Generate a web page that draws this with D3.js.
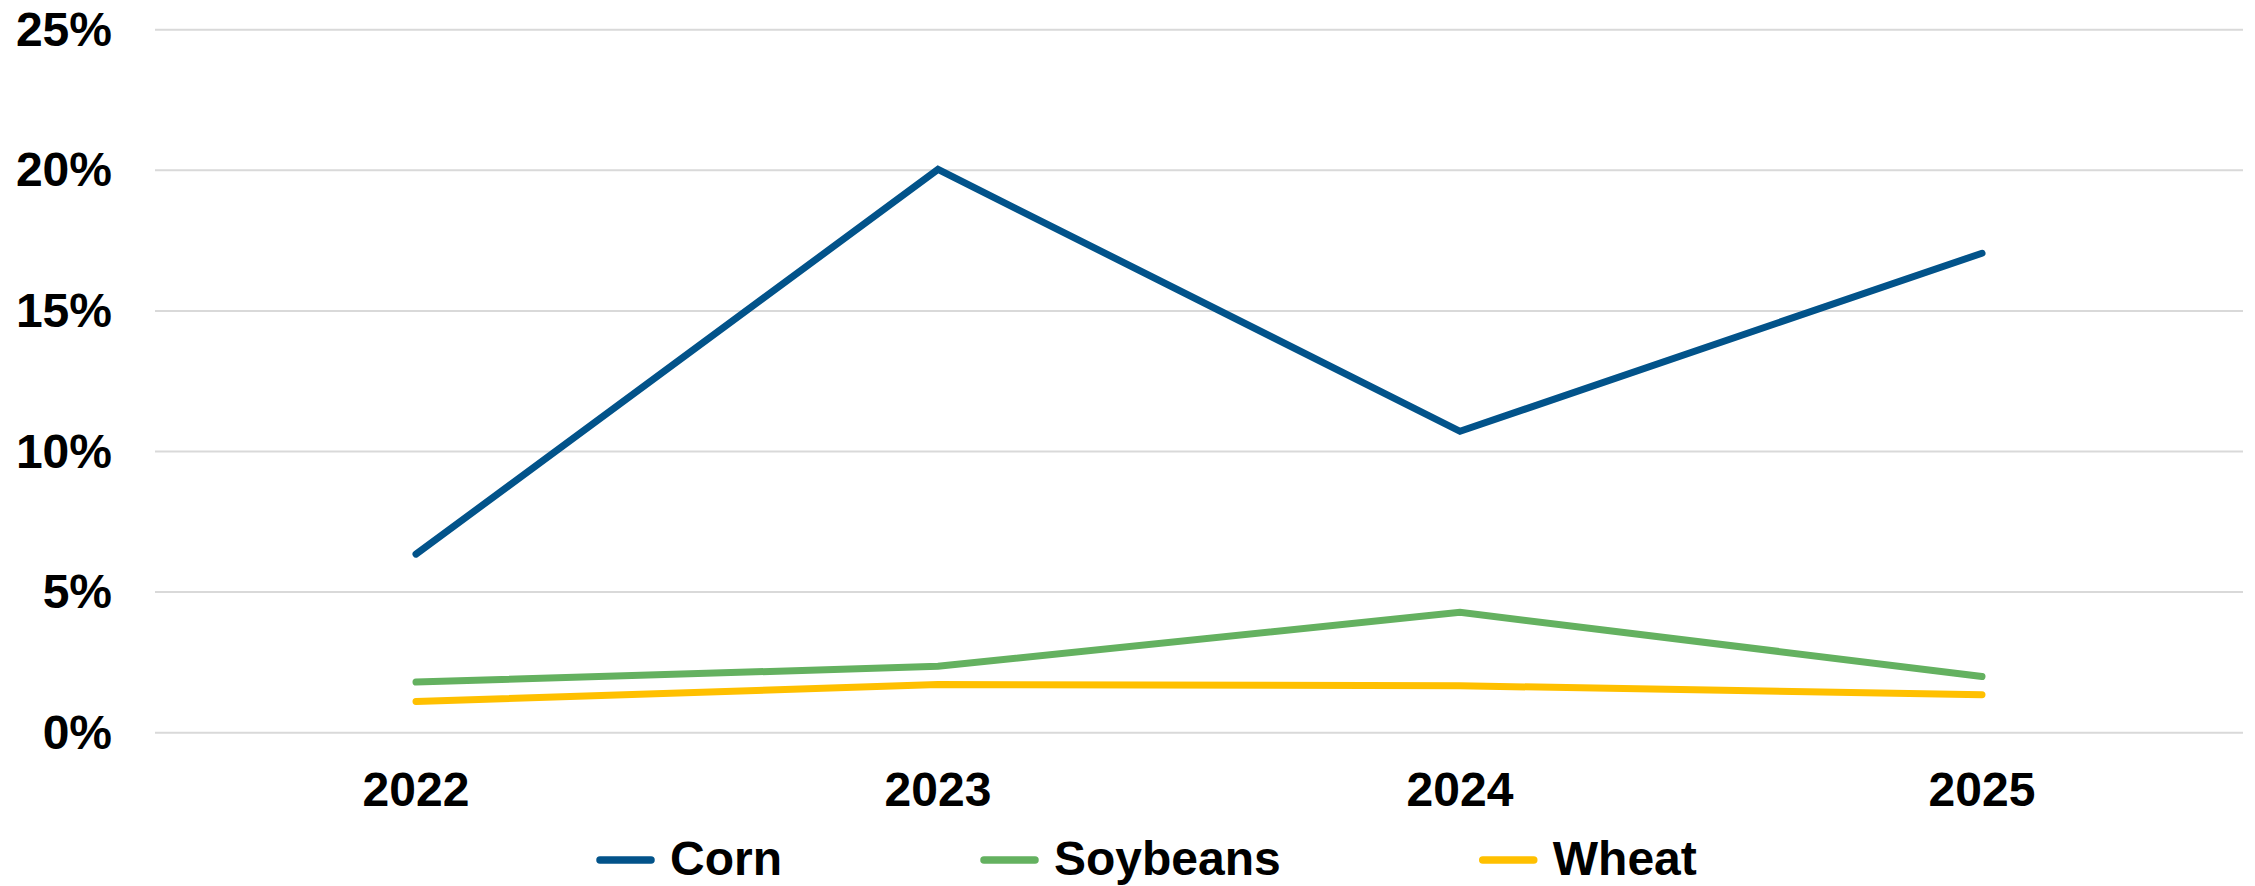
<!DOCTYPE html>
<html>
<head>
<meta charset="utf-8">
<script src="https://cdn.jsdelivr.net/npm/d3@7"></script>
<style>
  html, body { margin: 0; padding: 0; background: #ffffff; }
  svg { display: block; font-family: "Liberation Sans", Arial, sans-serif; font-weight: bold; }
</style>
</head>
<body>
<svg id="chart" width="2255" height="886"></svg>
<script>
// Crop years on the x axis
const years = ["2022", "2023", "2024", "2025"];

// Share (%) per crop and year
const corn     = [6.35, 20.03, 10.72, 17.05];
const soybeans = [1.80, 2.36, 4.28, 2.00];
const wheat    = [1.11, 1.71, 1.67, 1.35];

// Y axis ticks
const yTicks = [0, 5, 10, 15, 20, 25];

const seriesNames  = ["Corn", "Soybeans", "Wheat"];
const seriesValues = [corn, soybeans, wheat];
const seriesColors = ["#02538A", "#64B160", "#FFC000"];

const W = 2255, H = 886;
const plot = { left: 155, right: 2243, top: 29.7, bottom: 732.7 };

const svg = d3.select("#chart");

const x = d3.scaleBand().domain(years).range([plot.left, plot.right]).paddingInner(0).paddingOuter(0);
const y = d3.scaleLinear().domain([0, 25]).range([plot.bottom, plot.top]);
const cx = d => x(d) + x.bandwidth() / 2;

// Horizontal gridlines
svg.append("g")
  .selectAll("line")
  .data(yTicks)
  .join("line")
  .attr("x1", plot.left).attr("x2", plot.right)
  .attr("y1", d => y(d)).attr("y2", d => y(d))
  .attr("stroke", "#D9D9D9")
  .attr("stroke-width", 2);

// Y axis labels
svg.append("g")
  .selectAll("text")
  .data(yTicks)
  .join("text")
  .attr("x", 112)
  .attr("y", d => y(d) + 16)
  .attr("text-anchor", "end")
  .attr("font-size", 48)
  .attr("fill", "#000")
  .text(d => d + "%");

// X axis labels
svg.append("g")
  .selectAll("text")
  .data(years)
  .join("text")
  .attr("x", d => cx(d))
  .attr("y", 806)
  .attr("text-anchor", "middle")
  .attr("font-size", 48)
  .attr("fill", "#000")
  .text(d => d);

// Series lines
const line = d3.line()
  .x((d, i) => cx(years[i]))
  .y(d => y(d));

svg.append("g")
  .selectAll("path")
  .data(seriesValues)
  .join("path")
  .attr("d", d => line(d))
  .attr("fill", "none")
  .attr("stroke", (d, i) => seriesColors[i])
  .attr("stroke-width", 7)
  .attr("stroke-linecap", "round")
  .attr("stroke-linejoin", "miter");

// Legend
const legend = svg.append("g");
const swatchLen = 51, swatchGap = 19, itemGap = 202;
let lx = 600;
seriesNames.forEach((name, i) => {
  const g = legend.append("g");
  g.append("line")
    .attr("x1", lx).attr("x2", lx + swatchLen)
    .attr("y1", 860).attr("y2", 860)
    .attr("stroke", seriesColors[i])
    .attr("stroke-width", 7.5)
    .attr("stroke-linecap", "round");
  const t = g.append("text")
    .attr("x", lx + swatchLen + swatchGap)
    .attr("y", 875)
    .attr("font-size", 48)
    .attr("fill", "#000")
    .text(name);
  const tw = t.node().getComputedTextLength();
  lx += swatchLen + swatchGap + tw + itemGap;
});
</script>
</body>
</html>
